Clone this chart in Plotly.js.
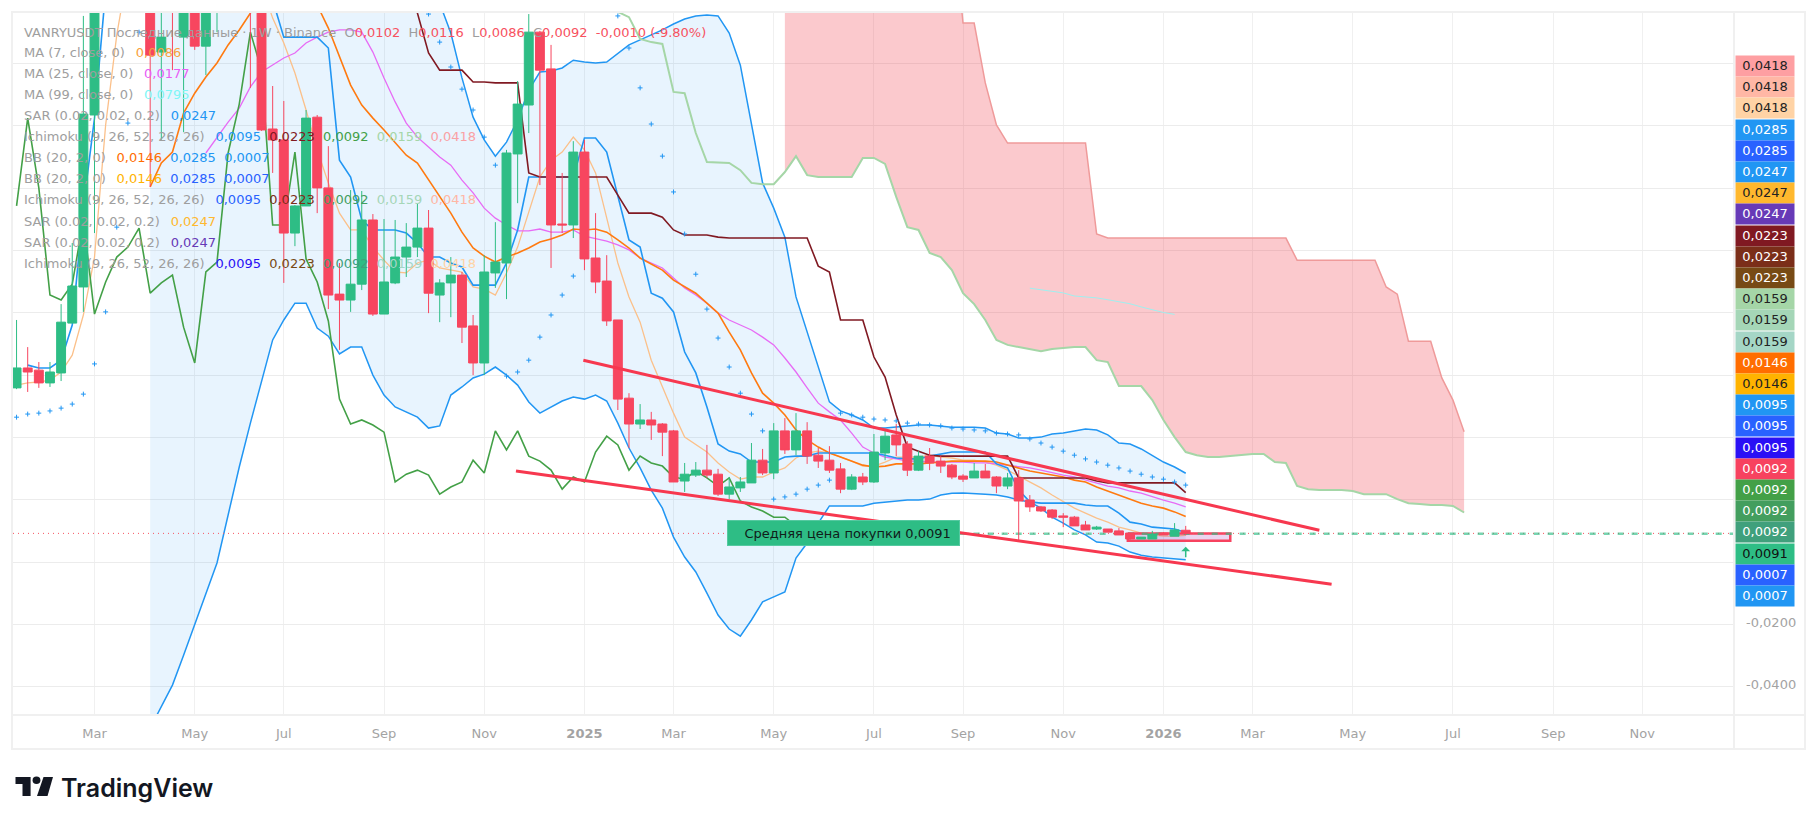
<!DOCTYPE html>
<html><head><meta charset="utf-8">
<script src="https://cdn.plot.ly/plotly-3.0.1.min.js"></script>
<style>html,body{margin:0;padding:0;background:#fff;overflow:hidden}</style></head>
<body><div id="chart" style="width:1819px;height:825px"></div>
<script>
// ---- candles (weekly, index 0 = 15 Jan 2024) ----
const opens=[.0559,.0623,.0616,.0575,.0607,.0767,.0883,.1435,.21,.25,
.28,.26,.235,.1637,.205,.1685,.20,.1656,.18,.20,
.22,.20,.19,.1390,.1355,.1056,.1143,.1428,.1201,.0860,
.0841,.0892,.1098,.0796,.0896,.0979,.1011,.1072,.0857,.0896,
.0921,.0758,.0639,.0928,.0960,.1310,.1467,.1701,.1583,.1085,
.1082,.1316,.0976,.0902,.0777,.0526,.0443,.0456,.0443,.0421,
.0260,.0279,.0295,.0282,.0218,.0238,.0254,.0327,.0286,.0421,
.0360,.0421,.0343,.0327,.0299,.0234,.0273,.0257,.0350,.0408,
.0379,.0295,.0340,.0324,.0311,.0276,.0270,.0292,.0273,.0244,
.0270,.0199,.0177,.0167,.0148,.0144,.0119,.0106,.0106,.0100,
.0093,.0074,.0074,.0093,.0083,.0102];
const highs=[.0777,.0690,.0642,.0642,.0828,.1024,.1753,.24,.27,.30,
.31,.28,.25,.19,.22,.20,.21,.21,.22,.235,
.235,.21,.20,.1528,.1480,.1146,.1451,.1435,.1335,.0960,
.1194,.1191,.1117,.1101,.1098,.1088,.1152,.1130,.0908,.0979,
.0931,.0793,.0985,.1091,.1323,.1544,.1759,.1705,.1660,.1249,
.1351,.1355,.1120,.0985,.0777,.0542,.0507,.0482,.0446,.0424,
.0318,.0321,.0376,.0299,.0273,.0273,.0382,.0363,.0446,.0462,
.0478,.0449,.0366,.0372,.0318,.0282,.0286,.0411,.0424,.0443,
.0388,.0356,.0366,.0340,.0315,.0282,.0318,.0315,.0276,.0286,
.0295,.0215,.0180,.0170,.0157,.0148,.0132,.0116,.0106,.0109,
.0093,.0080,.0100,.0096,.0125,.0116];
const lows=[.0555,.0546,.0559,.0562,.0581,.0767,.0803,.1056,.195,.23,
.24,.22,.1204,.1355,.1579,.1380,.1644,.1563,.1701,.185,
.18,.1522,.1384,.1249,.0896,.1014,.1143,.1120,.0812,.0681,
.0803,.0873,.0790,.0796,.0892,.0915,.0979,.0799,.0770,.0786,
.0703,.0600,.0600,.0880,.0844,.1152,.1377,.1210,.0944,.1056,
.1040,.0937,.0863,.0758,.0488,.0366,.0427,.0392,.0340,.0257,
.0225,.0273,.0270,.0212,.0202,.0225,.0254,.0279,.0266,.0347,
.0343,.0315,.0302,.0286,.0221,.0231,.0247,.0254,.0327,.0340,
.0276,.0292,.0295,.0286,.0266,.0257,.0270,.0270,.0221,.0234,
.0071,.0161,.0161,.0138,.0112,.0116,.0103,.0103,.0096,.0087,
.0071,.0074,.0074,.0087,.0083,.0086];
const closes=[.0623,.0610,.0575,.0610,.0770,.0886,.1438,.21,.25,.28,
.26,.235,.1627,.1685,.185,.19,.1656,.195,.20,.22,
.195,.18,.1387,.1355,.1056,.1143,.1425,.1201,.0857,.0841,
.0892,.1098,.0796,.0899,.0979,.1011,.1072,.0863,.0896,.0921,
.0754,.0639,.0931,.0963,.1313,.1470,.1701,.1579,.1082,.1082,
.1316,.0973,.0899,.0774,.0523,.0443,.0456,.0440,.0417,.0257,
.0282,.0295,.0279,.0218,.0241,.0257,.0327,.0286,.0421,.0360,
.0421,.0340,.0324,.0295,.0234,.0273,.0257,.0353,.0404,.0376,
.0295,.0340,.0318,.0308,.0273,.0266,.0292,.0270,.0244,.0270,
.0196,.0177,.0164,.0144,.0144,.0116,.0103,.0112,.0096,.0087,
.0074,.0080,.0090,.0087,.0103,.0092];

// ---- indicators: [first bar index, values] ----
const ma7Start=0;
const ma7=[.0568,.0575,.0578,.0584,.0610,.0664,.0793,.0979,.1403,.1692,
.19,.21,.22,.23,.235,.24,.235,.23,.225,.22,
.21,.20,.1852,.1746,.1666,.1570,.1451,.1323,.1217,.1120,
.1066,.1066,.1011,.0969,.0931,.0928,.0960,.0969,.0944,.0937,
.0931,.0883,.0876,.0857,.0928,.1011,.1120,.1236,.1290,.1316,
.1364,.1323,.1249,.1107,.0960,.0851,.0770,.0648,.0562,.0478,
.0401,.0376,.0353,.0318,.0289,.0266,.0273,.0273,.0289,.0302,
.0334,.0350,.0356,.0350,.0337,.0324,.0308,.0308,.0321,.0337,
.0337,.0337,.0343,.0337,.0334,.0327,.0327,.0321,.0311,.0295,
.0276,.0257,.0238,.0215,.0193,.0173,.0157,.0141,.0128,.0112,
.0103,.0093,.0087,.0083,.0083,.0086];
const ma25Start=17;
const ma25=[.1313,.1364,.1412,.1457,.1525,.1573,.1595,.1618,.1634,.1666,.1685,.1701,.1708,.1708,.1701,
.1637,.1554,.1477,.1409,.1364,.1332,.1300,.1274,.1226,.1185,.1136,.1104,.1082,.1063,.1063,
.1069,.1059,.1059,.1066,.1046,.1037,.1030,.1018,.1002,.0976,.0960,.0944,.0912,.0880,.0857,
.0831,.0799,.0777,.0761,.0745,.0722,.0697,.0655,.0610,.0559,.0510,.0482,.0456,.0414,.0369,
.0350,.0337,.0331,.0324,.0324,.0321,.0321,.0321,.0321,.0318,.0318,.0315,.0311,.0308,.0302,
.0295,.0286,.0279,.0273,.0263,.0254,.0244,.0238,.0228,.0221,.0209,.0199,.0189,.0177];
const ma99Start=91;
const ma99=[.0879,.0874,.0868,.0864,.0854,.0851,.0848,.0842,.0835,.0829,.0819,.0810,.0801,.0795];
const bbStart=12;
const bbBasis=[.1204,.1281,.1316,.1441,.1505,.1557,.1602,.1660,.1708,.1762,.1883,.195,.20,.20,.195,
.1788,.1714,.1621,.1531,.1467,.1425,.1387,.1345,.1306,.1281,.1226,.1172,.1120,.1059,.1008,
.0982,.0963,.0979,.0992,.1008,.1027,.1037,.1050,.1069,.1066,.1069,.1059,.1034,.1008,.0976,
.0957,.0937,.0905,.0883,.0863,.0831,.0799,.0738,.0681,.0607,.0542,.0510,.0472,.0424,.0392,
.0369,.0350,.0337,.0324,.0311,.0305,.0308,.0315,.0315,.0315,.0318,.0321,.0324,.0324,.0324,
.0324,.0321,.0311,.0302,.0292,.0286,.0279,.0273,.0263,.0257,.0241,.0228,.0215,.0202,.0189,
.0180,.0173,.0161,.0146];
const bbUpper=[.30,.31,.32,.33,.34,.35,.36,.37,.38,.38,.37,.36,.35,.34,.33,
.32,.31,.30,.29,.28,.27,.26,.25,.24,.23,.21,.1794,.1698,.1554,.1428,
.1355,.1303,.1348,.1419,.1515,.1573,.1576,.1586,.1611,.1605,.1602,.1605,.1634,.1660,.1676,
.1692,.1708,.1727,.1743,.1753,.1756,.1753,.1698,.1595,.1409,.1217,.1136,.1043,.0851,.0738,
.0626,.0514,.0485,.0472,.0456,.0430,.0430,.0433,.0437,.0440,.0440,.0437,.0433,.0433,.0433,
.0430,.0414,.0411,.0398,.0398,.0401,.0411,.0414,.0421,.0427,.0424,.0408,.0382,.0379,.0363,
.0343,.0321,.0305,.0285];
const bbLower=[-.0533,-.0462,-.0395,-.0299,-.0202,-.0103,-.0003,.0151,.0305,.0446,.0578,.0713,.0777,.0831,.0831,
.0751,.0725,.0668,.0690,.0690,.0600,.0536,.0498,.0482,.0465,.0430,.0437,.0536,.0562,.0591,
.0603,.0626,.0600,.0568,.0514,.0478,.0498,.0517,.0530,.0523,.0536,.0517,.0446,.0366,.0302,
.0231,.0173,.0080,.0016,-.0032,-.0100,-.0170,-.0215,-.0238,-.0186,-.0128,-.0112,-.0096,.0013,.0061,
.0125,.0180,.0180,.0180,.0180,.0189,.0193,.0196,.0199,.0199,.0202,.0215,.0221,.0222,.0221,
.0218,.0215,.0209,.0199,.0193,.0173,.0144,.0125,.0103,.0087,.0064,.0061,.0051,.0032,.0022,
.0016,.0013,.0010,.0007];
const convStart=1;
const ichiConversion=[.0632,.0623,.0623,.0648,.0761,.1140,.1425,.1836,.20,.21,.22,.23,.23,.22,.22,
.21,.21,.20,.20,.20,.19,.19,.1804,.1685,.1685,.1685,.1685,.1650,.1290,.1236,
.1098,.1066,.1066,.1066,.1056,.1024,.0979,.0979,.0960,.0947,.0889,.0889,.0889,.0960,.1066,
.1236,.1236,.1236,.1236,.1236,.1361,.1361,.1316,.1172,.1034,.1011,.0863,.0847,.0803,.0674,
.0607,.0498,.0379,.0356,.0347,.0321,.0321,.0321,.0337,.0340,.0340,.0350,.0350,.0350,.0350,
.0350,.0350,.0343,.0334,.0331,.0331,.0340,.0347,.0353,.0353,.0353,.0353,.0315,.0302,.0231,
.0193,.0189,.0189,.0189,.0189,.0183,.0180,.0180,.0157,.0128,.0122,.0112,.0109,.0106,.0095];
const baseStart=35;
const ichiBase=[.187,.1762,.1634,.1579,.1579,.1579,.1541,.1541,.1538,.1538,.1538,.1249,.1236,.1236,.1236,
.1236,.1236,.1236,.1236,.1178,.1120,.1120,.1120,.1107,.1066,.1050,.1050,.1050,.1043,.1040,
.1040,.1040,.1040,.1040,.1040,.1040,.1040,.0950,.0931,.0777,.0777,.0777,.0658,.0594,.0472,
.0369,.0356,.0343,.0340,.0340,.0340,.0340,.0340,.0340,.0340,.0270,.0270,.0270,.0270,.0270,
.0270,.0270,.0260,.0254,.0254,.0254,.0254,.0254,.0254,.0254,.0223];
const lagStart=0;
const ichiLagging=[.1143,.1425,.1201,.0857,.0841,.0892,.1098,.0796,.0899,.0979,.1011,.1072,.0863,.0896,.0921,
.0754,.0639,.0931,.0963,.1313,.1470,.1701,.1579,.1082,.1082,.1316,.0973,.0899,.0774,.0523,
.0443,.0456,.0440,.0417,.0257,.0282,.0295,.0279,.0218,.0241,.0257,.0327,.0286,.0421,.0360,
.0421,.0340,.0324,.0295,.0234,.0273,.0257,.0353,.0404,.0376,.0295,.0340,.0318,.0308,.0273,
.0266,.0292,.0270,.0244,.0270,.0196,.0177,.0164,.0144,.0144,.0116,.0103,.0112,.0096,.0087,
.0074,.0080,.0090,.0087,.0103,.0092];
const spanAStart=54;
const ichiSpanA=[.1766,.1749,.1679,.1669,.1663,.1509,.1505,.1377,.1284,.1282,.1281,.1258,.1217,.1213,.1213,
.1252,.1303,.1242,.1236,.1236,.1236,.1236,.1297,.1297,.1278,.1172,.1075,.1066,.0992,.0979,
.0937,.0863,.0828,.0777,.0713,.0697,.0690,.0684,.0677,.0684,.0687,.0690,.0690,.0648,.0642,
.0565,.0565,.0565,.0520,.0456,.0401,.0353,.0343,.0337,.0337,.0340,.0343,.0347,.0347,.0321,
.0318,.0244,.0234,.0231,.0231,.0231,.0228,.0218,.0218,.0218,.0202,.0189,.0186,.0183,.0183,
.0180,.0159];
const spanBStart=69;
const ichiSpanB=[.21,.21,.21,.21,.21,.21,.21,.21,.21,.21,.21,.21,.21,.21,.21,.21,
.1730,.1730,.1538,.1403,.1345,.1345,.1345,.1345,.1345,.1345,.1345,.1345,.1053,.1040,.1040,
.1040,.1040,.1040,.1040,.1040,.1040,.1040,.1040,.1040,.1040,.1040,.1040,.1040,.1040,.1040,
.0969,.0969,.0969,.0969,.0969,.0969,.0969,.0969,.0883,.0860,.0709,.0709,.0709,.0591,.0520,.0418];
const sarBars=[0,1,2,3,4,5,6,7,8,9,10,11,
37,38,39,40,41,42,43,44,45,46,47,48,49,50,
54,55,56,57,58,59,60,61,62,63,64,65,66,67,
68,69,70,71,72,73,
74,75,76,77,78,79,80,81,82,83,84,85,86,87,88,89,90,91,92,93,94,95,96,97,98,99,100,101,102,103,104,105];
const sarValues=[.0465,.0475,.0478,.0485,.0494,.0507,.0539,.0636,.0803,.1075,.1409,.1701,
.1759,.1669,.1589,.1518,.1451,.1364,.1274,.0597,.0610,.0648,.0722,.0793,.0857,.0918,
.1753,.1650,.1522,.1406,.1303,.1188,.1053,.0924,.0812,.0719,.0626,.0542,.0475,.0421,
.0202,.0209,.0218,.0234,.0247,.0263,
.0478,.0472,.0465,.0459,.0456,.0453,.0446,.0443,.0440,.0437,.0430,.0427,.0424,.0421,.0414,.0411,.0408,.0395,.0382,.0369,.0356,.0343,.0331,.0321,.0311,.0302,.0292,.0282,.0273,.0266,.0257,.0247];

// ---- drawings ----
const trendUpperX=[50.9,117.0], trendUpperY=[.0648,.0102];
const trendLowerX=[44.85,118.1], trendLowerY=[.0292,-.0071];
const rangeBoxX=[99.8,109,109,99.8,99.8], rangeBoxY=[.0092,.0092,.0068,.0068,.0092];
const lastPrice=.0092, avgBuyPrice=.0091, avgBuyLabel='\u00a0\u00a0Средняя цена покупки 0,0091';
const arrowBar=105, arrowTip=.0049;

// ---- axes ----
const monthBars=[7,16,24,33,42,51,59,68,77,85,94,103,111,120,129,138,146];
const monthLabels=['Mar','May','Jul','Sep','Nov','<b>2025</b>','Mar','May','Jul','Sep','Nov','<b>2026</b>','Mar','May','Jul','Sep','Nov'];
const gridValues=[-.04,-.02,0,.02,.04,.06,.08,.10,.12,.14,.16];
const priceLabelValues=[-.04,-.02];
const priceLabelTexts=['-0,0400','-0,0200'];
const xRange=[-0.32,154.24], yRange=[-.0491,.17624];

// ---- right-hand price tags ----
const tagValues=['0,0418','0,0418','0,0418','0,0285','0,0285','0,0247','0,0247','0,0247','0,0223','0,0223','0,0223','0,0159','0,0159','0,0159','0,0146','0,0146','0,0095','0,0095','0,0095','0,0092','0,0092','0,0092','0,0092','0,0091','0,0007','0,0007'];
const tagColors=['#fe9fa2','#ffb7a5','#ffd3a5','#2196f3','#2962ff','#2196f3','#ffb82e','#673ab7','#801922','#7b2e19','#774a15','#a5d6a7','#a5d6b7','#a5d6c6','#ff6d00','#ffb300','#2196f3','#2962ff','#2a10f5','#f7425f','#43a047','#439e5e','#40a07c','#2ebd85','#2962ff','#2196f3'];
const tagInk=['#222','#222','#222','#fff','#fff','#fff','#222','#fff','#fff','#fff','#fff','#222','#222','#222','#fff','#222','#fff','#fff','#fff','#fff','#fff','#fff','#fff','#111','#fff','#fff'];

// ---- legend ----
const legendRows=[
 [['VANRYUSDT Последние данные · 1W · Binance  O','#9e9e9e'],['0,0102','#f7525f'],['  H','#9e9e9e'],['0,0116','#f7525f'],['  L','#9e9e9e'],['0,0086','#f7525f'],['  C','#9e9e9e'],['0,0092  -0,0010 (-9.80%)','#f7525f']],
 [['MA (7, close, 0)  \u2009','#9e9e9e'],['0,0086','#f9a13c']],
 [['MA (25, close, 0)  \u2009','#9e9e9e'],['0,0177','#e85cf5']],
 [['MA (99, close, 0)  \u2009','#9e9e9e'],['0,0795','#7ff6f6']],
 [['SAR (0.02, 0.02, 0.2)  \u2009','#9e9e9e'],['0,0247','#2196f3']],
 [['Ichimoku (9, 26, 52, 26, 26)  \u2009','#9e9e9e'],['0,0095  ','#2196f3'],['0,0223  ','#801922'],['0,0092  ','#43a047'],['0,0159  ','#a5d6a7'],['0,0418','#faa1a4']],
 [['BB (20, 2, 0)  \u2009','#9e9e9e'],['0,0146  ','#ff6d00'],['0,0285  ','#2196f3'],['0,0007','#2196f3']],
 [['BB (20, 2, 0)  \u2009','#9e9e9e'],['0,0146  ','#ffb300'],['0,0285  ','#2962ff'],['0,0007','#2962ff']],
 [['Ichimoku (9, 26, 52, 26, 26)  \u2009','#9e9e9e'],['0,0095  ','#2962ff'],['0,0223  ','#7b2e19'],['0,0092  ','#439e5e'],['0,0159  ','#a5d6b7'],['0,0418','#ffb7a5']],
 [['SAR (0.02, 0.02, 0.2)  \u2009','#9e9e9e'],['0,0247','#ffb82e']],
 [['SAR (0.02, 0.02, 0.2)  \u2009','#9e9e9e'],['0,0247','#673ab7']],
 [['Ichimoku (9, 26, 52, 26, 26)  \u2009','#9e9e9e'],['0,0095  ','#2a10f5'],['0,0223  ','#774a15'],['0,0092  ','#40a07c'],['0,0159  ','#a5d6c6'],['0,0418','#ffd3a5']]
];

// ---- page geometry ----
const W=1819,H=825,L=13,R=1734,T=13,B=715;
const fam='"DejaVu Sans",Verdana,sans-serif';
const gridCol='#ececec', frameCol='#f0f0f0';
const px=v=>(v-L)/(R-L), py=v=>(B-v)/(B-T);
const barsFrom=(s,a)=>a.map((_,i)=>s+i);
const line=(s,a,color,width,extra)=>Object.assign({type:'scatter',mode:'lines',x:barsFrom(s,a),y:a,line:{color,width,shape:'linear'},hoverinfo:'skip',showlegend:false},extra||{});

const bbBlue='#2196f3';
const traces=[
 line(bbStart,bbLower,bbBlue,1.5),
 line(bbStart,bbUpper,bbBlue,1.5,{fill:'tonexty',fillcolor:'rgba(33,150,243,0.1)'}),
 line(spanBStart,ichiSpanA.slice(spanBStart-spanAStart),'rgba(0,0,0,0)',0),
 line(spanBStart,ichiSpanB,'#ef9a9a',1.5,{fill:'tonexty',fillcolor:'rgba(242,54,69,0.27)'}),
 line(spanAStart,ichiSpanA,'#a5d6a7',2),
 line(ma99Start,ma99,'#9ff0f0',1),
 line(ma7Start,ma7,'#fbc08a',1.3),
 line(ma25Start,ma25,'#e76bf5',1.3),
 line(bbStart,bbBasis,'#ff7a10',1.6),
 line(convStart,ichiConversion,bbBlue,1.6),
 line(baseStart,ichiBase,'#801922',1.6),
 line(lagStart,ichiLagging,'#43a047',1.6),
 {type:'scatter',mode:'markers',x:sarBars,y:sarValues,marker:{symbol:'cross-thin',size:3.5,color:bbBlue,line:{color:bbBlue,width:1}},hoverinfo:'skip',showlegend:false},
 {type:'scatter',mode:'lines',x:rangeBoxX,y:rangeBoxY,fill:'toself',fillcolor:'rgba(156,39,176,0.2)',line:{color:'#f7425f',width:2.5},hoverinfo:'skip',showlegend:false},
 {type:'scatter',mode:'lines',x:xRange,y:[lastPrice,lastPrice],line:{color:'#f7525f',width:1,dash:'1px,4px'},hoverinfo:'skip',showlegend:false},
 {type:'scatter',mode:'lines',x:[84.7,xRange[1]],y:[avgBuyPrice,avgBuyPrice],line:{color:'rgba(46,189,133,0.65)',width:2.5,dash:'6px,8px'},hoverinfo:'skip',showlegend:false},
 {type:'candlestick',xaxis:'x2',yaxis:'y2',x:barsFrom(0,closes),open:opens,high:highs,low:lows,close:closes,whiskerwidth:0,
  increasing:{line:{color:'#2ebd85',width:1},fillcolor:'#2ebd85'},decreasing:{line:{color:'#f7465f',width:1},fillcolor:'#f7465f'},hoverinfo:'skip',showlegend:false},
 {type:'scatter',mode:'lines',xaxis:'x3',yaxis:'y3',x:trendUpperX,y:trendUpperY,line:{color:'#f7384f',width:3},hoverinfo:'skip',showlegend:false},
 {type:'scatter',mode:'lines',xaxis:'x3',yaxis:'y3',x:trendLowerX,y:trendLowerY,line:{color:'#f7384f',width:3},hoverinfo:'skip',showlegend:false}
];

const annotations=[];
// legend rows
legendRows.forEach((row,k)=>{
 annotations.push({xref:'paper',yref:'paper',x:px(21.5),y:py(32+k*21),xanchor:'left',yanchor:'middle',showarrow:false,align:'left',
  text:row.map(p=>`<span style="color:${p[1]}">${p[0].replace(/ /g,'\u00a0')}</span>`).join(''),font:{family:fam,size:13,color:'#9e9e9e'}});
});
// price tags
tagValues.forEach((t,k)=>{
 annotations.push({xref:'paper',yref:'paper',x:px(1735),y:py(55+21.2*k),xanchor:'left',yanchor:'top',showarrow:false,align:'center',width:58,height:19.6,borderpad:0,
  text:t,bgcolor:tagColors[k],font:{family:fam,size:13,color:tagInk[k]}});
});
// scale labels
priceLabelValues.forEach((v,k)=>{
 annotations.push({xref:'paper',yref:'y',x:px(1744),y:v,yshift:2,xanchor:'left',yanchor:'middle',showarrow:false,text:priceLabelTexts[k],font:{family:fam,size:13,color:'#a3a3a3'}});
});
// average buy price label
annotations.push({xref:'paper',yref:'paper',x:px(727),y:py(533),xanchor:'left',yanchor:'middle',showarrow:false,width:229,height:22,borderpad:1,borderwidth:1,bordercolor:'#55c9a0',
 text:avgBuyLabel,bgcolor:'#2ebd85',font:{family:fam,size:13,color:'#10201a'}});
// small green arrow
annotations.push({x:arrowBar,y:arrowTip,xref:'x',yref:'y',ax:0,ay:12,axref:'pixel',ayref:'pixel',text:'',showarrow:true,arrowhead:1,arrowsize:1,arrowwidth:1.5,arrowcolor:'#2ebd85'});
// logotype
annotations.push({xref:'paper',yref:'paper',x:px(59),y:py(788),xanchor:'left',yanchor:'middle',showarrow:false,text:'TradingView',font:{family:'Inter,sans-serif',size:25,weight:600,color:'#131722'}});

const P=(x,y)=>px(x)+','+py(y);
const shapes=[
 {type:'rect',xref:'paper',yref:'paper',x0:px(12),x1:px(1805),y0:py(749),y1:py(12),line:{color:frameCol,width:2},fillcolor:'rgba(0,0,0,0)',layer:'below'},
 {type:'line',xref:'paper',yref:'paper',x0:px(12),x1:px(1805),y0:py(715),y1:py(715),line:{color:frameCol,width:2}},
 {type:'line',xref:'paper',yref:'paper',x0:px(1734),x1:px(1734),y0:py(12),y1:py(749),line:{color:frameCol,width:2}},
 {type:'path',xref:'paper',yref:'paper',path:`M${P(15.5,777)}L${P(30.6,777)}L${P(30.6,796)}L${P(22.5,796)}L${P(22.5,784)}L${P(15.5,784)}Z`,fillcolor:'#131722',line:{width:0}},
 {type:'circle',xref:'paper',yref:'paper',x0:px(32.6),x1:px(40.4),y0:py(784),y1:py(776.5),fillcolor:'#131722',line:{width:0}},
 {type:'path',xref:'paper',yref:'paper',path:`M${P(43.5,777)}L${P(53,777)}L${P(47.5,796)}L${P(37,796)}Z`,fillcolor:'#131722',line:{width:0}}
];

const layout={
 width:W,height:H,autosize:false,paper_bgcolor:'#fff',plot_bgcolor:'#fff',hovermode:false,showlegend:false,
 margin:{l:L,r:W-R,t:T,b:H-B,pad:0},boxgap:0.2,boxgroupgap:0,
 xaxis:{type:'linear',range:xRange,tickmode:'array',tickvals:monthBars,ticktext:monthLabels,showgrid:true,gridcolor:'#f0f0f0',gridwidth:1,zeroline:false,showline:false,
  ticks:'outside',ticklen:6,tickcolor:'rgba(0,0,0,0)',tickfont:{family:fam,size:13,color:'#a3a3a3'}},
 yaxis:{type:'linear',range:yRange,side:'right',tickmode:'array',tickvals:gridValues,ticktext:gridValues.map(()=>''),showgrid:true,gridcolor:gridCol,gridwidth:1,zeroline:false,showline:false,
  ticks:'',tickfont:{family:fam,size:13,color:'#a3a3a3'}},
 xaxis2:{overlaying:'x',type:'linear',range:xRange,visible:false,rangeslider:{visible:false}},
 yaxis2:{overlaying:'y',type:'linear',range:yRange,visible:false},
 xaxis3:{overlaying:'x',type:'linear',range:xRange,visible:false},
 yaxis3:{overlaying:'y',type:'linear',range:yRange,visible:false},
 annotations,shapes
};
Plotly.newPlot('chart',traces,layout,{staticPlot:true,displayModeBar:false});
</script></body></html>
